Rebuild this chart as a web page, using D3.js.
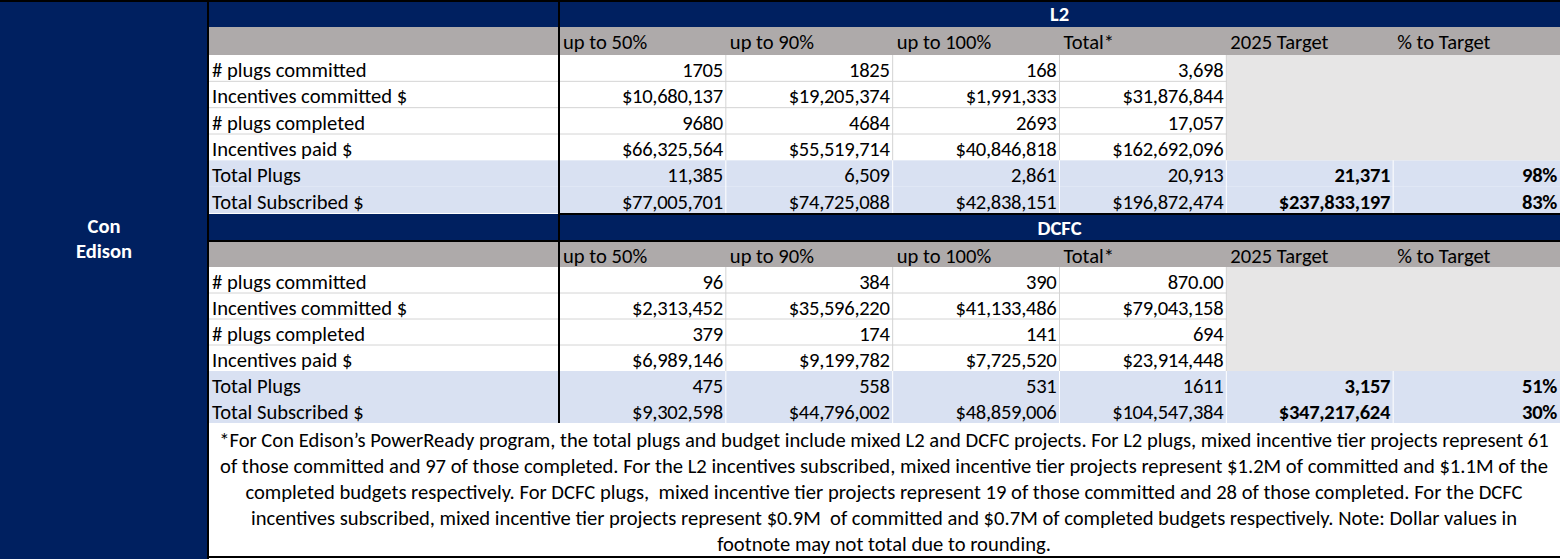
<!DOCTYPE html>
<html><head><meta charset="utf-8">
<script src="https://cdn.jsdelivr.net/npm/d3@7"></script>
<style>
html,body{margin:0;padding:0;background:#fff;}
svg text{font-family:Carlito,Lato,"Liberation Sans",sans-serif;}
</style></head>
<body><svg id="chart" width="1560" height="559"></svg>
<script>
// ---- data ----
const utility = ["Con", "Edison"];
const sections = ["L2", "DCFC"];
const columns = ["up to 50%", "up to 90%", "up to 100%", "Total*"];
const targetHeaders = ["2025 Target", "% to Target"];
const rowLabels = ["# plugs committed", "Incentives committed $", "# plugs completed", "Incentives paid $", "Total Plugs", "Total Subscribed $"];
const l2Values = [
  ["1705", "1825", "168", "3,698"],
  ["$10,680,137", "$19,205,374", "$1,991,333", "$31,876,844"],
  ["9680", "4684", "2693", "17,057"],
  ["$66,325,564", "$55,519,714", "$40,846,818", "$162,692,096"],
  ["11,385", "6,509", "2,861", "20,913"],
  ["$77,005,701", "$74,725,088", "$42,838,151", "$196,872,474"]
];
const l2Targets = [["21,371", "98%"], ["$237,833,197", "83%"]];
const dcfcValues = [
  ["96", "384", "390", "870.00"],
  ["$2,313,452", "$35,596,220", "$41,133,486", "$79,043,158"],
  ["379", "174", "141", "694"],
  ["$6,989,146", "$9,199,782", "$7,725,520", "$23,914,448"],
  ["475", "558", "531", "1611"],
  ["$9,302,598", "$44,796,002", "$48,859,006", "$104,547,384"]
];
const dcfcTargets = [["3,157", "51%"], ["$347,217,624", "30%"]];
const footnoteLines = [
  "*For Con Edison\u2019s PowerReady program, the total plugs and budget include mixed L2 and DCFC projects. For L2 plugs, mixed incentive tier projects represent 61",
  "of those committed and 97 of those completed. For the L2 incentives subscribed, mixed incentive tier projects represent $1.2M of committed and $1.1M of the",
  "completed budgets respectively. For DCFC plugs,  mixed incentive tier projects represent 19 of those committed and 28 of those completed. For the DCFC",
  "incentives subscribed, mixed incentive tier projects represent $0.9M  of committed and $0.7M of completed budgets respectively. Note: Dollar values in",
  "footnote may not total due to rounding."
];

// ---- layout ----
const W = 1560, H = 559;
const C = {navy: "#002060", gray: "#AEAAAA", blue: "#D9E1F2", tgt: "#E7E6E6", grid: "#D4D4D4", text: "#000"};
const FS = 20.6, NFS = 20.6, NLS = -0.3, FNS = 20.6, footWidth = 1330;
const leftEdge = 208, labelEdge = 559, totalEdge = 1227;
const colKeys = [...columns, ...targetHeaders];
const x = d3.scaleBand().domain(colKeys).range([labelEdge, W]).paddingInner(0).paddingOuter(0);

const svg = d3.select("#chart");
svg.append("rect").attr("width", W).attr("height", H).attr("fill", "#fff");
svg.append("rect").attr("x", 0).attr("y", 0).attr("width", leftEdge).attr("height", H).attr("fill", C.navy);

const sectionDefs = [
  {name: sections[0], head: [2, 27], sub: [27, 55], rows: [55, 213], values: l2Values, targets: l2Targets},
  {name: sections[1], head: [214, 241], sub: [241, 267], rows: [267, 423], values: dcfcValues, targets: dcfcTargets}
];

sectionDefs.forEach(s => {
  const g = svg.append("g");
  const y = d3.scaleBand().domain(rowLabels).range(s.rows);
  // header band
  g.append("rect").attr("x", leftEdge).attr("y", s.head[0]).attr("width", W - leftEdge).attr("height", s.head[1] - s.head[0]).attr("fill", C.navy);
  g.append("text").attr("x", x.range()[0] + (W - labelEdge) / 2).attr("y", s.head[1] - 6)
    .attr("text-anchor", "middle").attr("font-weight", "bold").attr("font-size", FS).attr("fill", "#fff").text(s.name);
  // subheader band
  g.append("rect").attr("x", leftEdge).attr("y", s.sub[0]).attr("width", W - leftEdge).attr("height", s.sub[1] - s.sub[0]).attr("fill", C.gray);
  g.selectAll("text.ch").data(colKeys).join("text").attr("class", "ch")
    .attr("x", d => x(d) + 4).attr("y", s.sub[0] + 21.5).attr("font-size", FS).attr("fill", C.text).text(d => d);
  // row backgrounds
  g.selectAll("rect.rowbg").data(rowLabels).join("rect").attr("class", "rowbg")
    .attr("x", leftEdge).attr("y", d => y(d)).attr("width", W - leftEdge).attr("height", y.bandwidth())
    .attr("fill", (d, i) => i >= 4 ? C.blue : "#fff");
  // target grey block for detail rows
  const detail = rowLabels.slice(0, 4);
  g.append("rect").attr("x", x(targetHeaders[0])).attr("y", y(detail[0]))
    .attr("width", W - x(targetHeaders[0])).attr("height", y.bandwidth() * detail.length).attr("fill", C.tgt);
  // gridlines in detail rows
  g.selectAll("line.hg").data(detail.slice(1)).join("line").attr("class", "hg")
    .attr("x1", leftEdge).attr("x2", totalEdge).attr("y1", d => y(d)).attr("y2", d => y(d))
    .attr("stroke", C.grid).attr("stroke-width", 1);
  g.selectAll("line.vg").data(columns.slice(1).concat([targetHeaders[0]])).join("line").attr("class", "vg")
    .attr("x1", d => x(d)).attr("x2", d => x(d)).attr("y1", y(detail[0])).attr("y2", y(rowLabels[4]))
    .attr("stroke", C.grid).attr("stroke-width", 1);
  g.selectAll("line.vw").data(columns.slice(1).concat(targetHeaders)).join("line").attr("class", "vw")
    .attr("x1", d => x(d)).attr("x2", d => x(d)).attr("y1", y(rowLabels[4])).attr("y2", s.rows[1])
    .attr("stroke", "#fff").attr("stroke-width", 1);
  // row labels
  g.selectAll("text.rl").data(rowLabels).join("text").attr("class", "rl")
    .attr("x", leftEdge + 4).attr("y", d => y(d) + y.bandwidth() - 4.5)
    .attr("font-size", FS).attr("fill", C.text).text(d => d);
  // values
  s.values.forEach((row, ri) => {
    g.selectAll(null).data(row).join("text")
      .attr("x", (d, ci) => x(columns[ci]) + x.bandwidth() - 3)
      .attr("y", y(rowLabels[ri]) + y.bandwidth() - 4.5)
      .attr("text-anchor", "end").attr("font-size", NFS).attr("letter-spacing", NLS)
      .attr("fill", C.text).text(d => d);
  });
  s.targets.forEach((row, ri) => {
    g.selectAll(null).data(row).join("text")
      .attr("x", (d, ci) => x(targetHeaders[ci]) + x.bandwidth() - 3)
      .attr("y", y(rowLabels[4 + ri]) + y.bandwidth() - 4.5)
      .attr("text-anchor", "end").attr("font-weight", "bold").attr("font-size", NFS).attr("letter-spacing", NLS)
      .attr("fill", C.text).text(d => d);
  });
});

// footnote (font size fitted so the widest line spans the reference width)
const fy = d3.scaleBand().domain(d3.range(footnoteLines.length)).range([427, 557]);
const foot = svg.append("g").selectAll("text").data(footnoteLines).join("text")
  .attr("x", (leftEdge + W) / 2).attr("y", (d, i) => fy(i) + fy.bandwidth() / 2 + 7)
  .attr("text-anchor", "middle").attr("font-size", FNS).attr("fill", C.text)
  .style("white-space", "pre").text(d => d);
const maxW = d3.max(foot.nodes(), n => n.getComputedTextLength());
if (maxW > 0) foot.attr("font-size", FNS * footWidth / maxW);

// utility label
svg.append("g").selectAll("text").data(utility).join("text")
  .attr("x", leftEdge / 2).attr("y", (d, i) => 233 + i * 25)
  .attr("text-anchor", "middle").attr("font-weight", "bold").attr("font-size", FS).attr("fill", "#fff").text(d => d);

// black borders
const borders = [
  [0, 1, W, 1], [leftEdge, 0, leftEdge, H], [labelEdge, 0, labelEdge, 423],
  [labelEdge, 214, W, 214], [leftEdge, 241, W, 241], [leftEdge, 557, W, 557]
];
svg.append("g").selectAll("line").data(borders).join("line")
  .attr("x1", d => d[0]).attr("y1", d => d[1]).attr("x2", d => d[2]).attr("y2", d => d[3])
  .attr("stroke", "#000").attr("stroke-width", 2);
</script></body></html>
